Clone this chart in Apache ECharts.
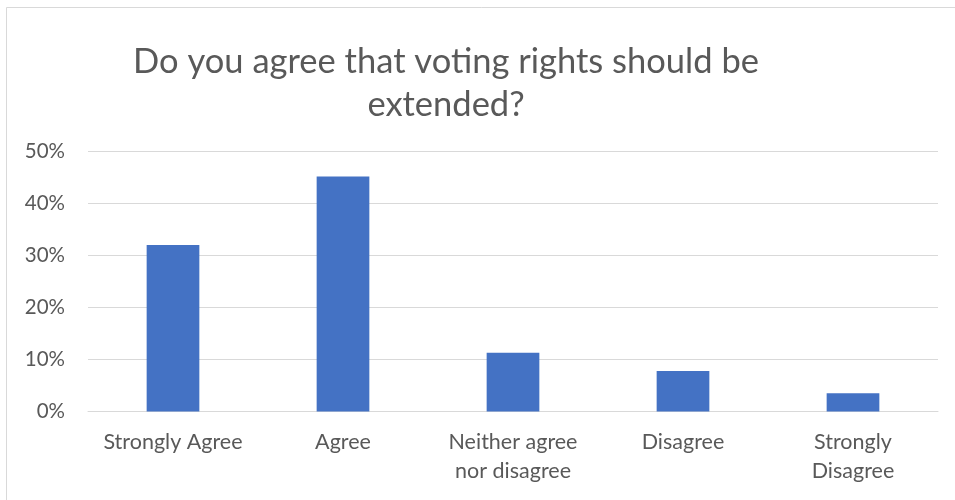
<!DOCTYPE html>
<html>
<head>
<meta charset="utf-8">
<script src="https://cdn.jsdelivr.net/npm/echarts@6/dist/echarts.min.js"></script>
<style>html,body{margin:0;padding:0;background:#fff;}#c{width:955px;height:500px;}</style>
</head>
<body>
<div id="c"></div>
<script>
const titleText = 'Do you agree that voting rights should be\nextended?';
const categories = ['Strongly Agree', 'Agree', 'Neither agree\nnor disagree', 'Disagree', 'Strongly\nDisagree'];
const values = [0.32, 0.452, 0.113, 0.078, 0.035];
const yTicks = { min: 0, max: 0.5, interval: 0.1 };

const FONT = 'Lato, "Liberation Sans", sans-serif';
const chart = echarts.init(document.getElementById('c'), null, { renderer: 'canvas' });
chart.setOption({
  backgroundColor: '#ffffff',
  animation: false,
  title: {
    text: titleText,
    left: 441,
    top: 35,
    textAlign: 'center',
    textStyle: { fontFamily: FONT, fontSize: 34.5, fontWeight: 'normal', color: '#595959', lineHeight: 43 }
  },
  graphic: [{
    type: 'rect',
    shape: { x: 6.5, y: 7.5, width: 1200, height: 800 },
    style: { fill: 'none', stroke: '#d9d9d9', lineWidth: 1 },
    silent: true
  }],
  grid: { left: 88, right: 17, top: 151.5, bottom: 88.5 },
  xAxis: {
    type: 'category',
    data: categories,
    axisLine: { show: true, lineStyle: { color: '#d9d9d9', width: 1 } },
    axisTick: { show: false },
    axisLabel: { fontFamily: FONT, fontSize: 21.5, color: '#595959', margin: 16.5, lineHeight: 28.5, interval: 0 }
  },
  yAxis: {
    type: 'value',
    min: yTicks.min, max: yTicks.max, interval: yTicks.interval,
    axisLine: { show: false },
    axisTick: { show: false },
    splitLine: { lineStyle: { color: '#d9d9d9', width: 1 } },
    axisLabel: {
      fontFamily: FONT, fontSize: 20.5, color: '#595959', margin: 23,
      formatter: v => Math.round(v * 100) + '%'
    }
  },
  series: [{
    type: 'bar',
    data: values,
    barWidth: '31%',
    itemStyle: { color: '#4472C4' }
  }]
});
</script>
</body>
</html>
